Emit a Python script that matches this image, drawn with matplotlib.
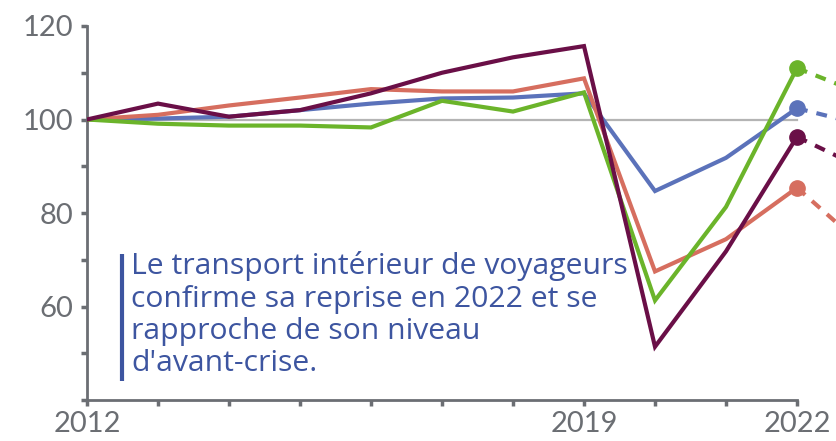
import numpy as np
import matplotlib.pyplot as plt

plt.rcParams['font.family'] = ['Lato', 'DejaVu Sans']

years = np.arange(2012, 2023)
blue = [100, 100.2, 100.6, 102, 103.4, 104.5, 104.7, 105.6, 84.7, 91.8, 102.4]
red = [100, 101, 103, 104.7, 106.5, 106, 106, 108.8, 67.5, 74.4, 85.4]
green = [100, 99.1, 98.7, 98.7, 98.3, 104, 101.7, 105.8, 61.3, 81.3, 111]
purple = [100, 103.4, 100.6, 102, 105.6, 110, 113.3, 115.7, 51.4, 71.8, 96.3]
# projection 2023 (dashed)
proj_years = [2022, 2023]
blue_proj = [102.4, 98.6]
red_proj = [85.4, 72]
green_proj = [111, 105]
purple_proj = [96.3, 89]

series = [
    (blue, blue_proj, '#5b72ba'),
    (red, red_proj, '#d66e5f'),
    (green, green_proj, '#6bb42a'),
    (purple, purple_proj, '#6a0f47'),
]

grey = '#6b6e73'
W, H = 837, 441
fig = plt.figure(figsize=(W / 100, H / 100), dpi=100)
ax = fig.add_axes([87 / W, 41 / H, (W - 87) / W, (400 - 26) / H])

ax.plot([2012, 2022], [100, 100], color='#b4b4b4', lw=1.6, zorder=1)

for vals, proj, col in series:
    ax.plot(years, vals, color=col, lw=3, solid_joinstyle='miter', zorder=3)
    ax.plot(proj_years, proj, color=col, lw=3, ls=(0, (2.6, 2.2)), zorder=3)
    ax.plot([2022], [vals[-1]], 'o', color=col, ms=11, zorder=4)

ax.set_xlim(2012, 2022 + 40 / 71)
ax.set_ylim(40, 120)
ax.spines['top'].set_visible(False)
ax.spines['right'].set_visible(False)
for s in ('left', 'bottom'):
    ax.spines[s].set_color(grey)
    ax.spines[s].set_linewidth(2)
ax.spines['bottom'].set_bounds(2012, 2022)

ax.set_xticks(years)
ax.set_xticklabels(['2012', '', '', '', '', '', '', '2019', '', '', '2022'])
ax.set_yticks(np.arange(40, 121, 10))
ax.set_yticklabels(['', '', '60', '', '80', '', '100', '', '120'])
ax.tick_params(colors=grey, labelcolor=grey, labelsize=21, length=4, width=2.5, pad=6)
ax.tick_params(axis='x', pad=4)

ax.plot([2012 + 35 / 71] * 2, [100 - (253 - 119) / 4.65, 100 - (379 - 119) / 4.65],
        color='#3d55a0', lw=3, solid_capstyle='butt', clip_on=False)
ax.text(2012 + 44 / 71, 100 - (250 - 119) / 4.65,
        "Le transport intérieur de voyageurs\nconfirme sa reprise en 2022 et se\nrapproche de son niveau\nd'avant-crise.",
        color='#3d55a0', fontsize=21.7, va='top', ha='left', linespacing=1.15,
        family=['Open Sans', 'DejaVu Sans'])

fig.savefig('out.png', dpi=100)
